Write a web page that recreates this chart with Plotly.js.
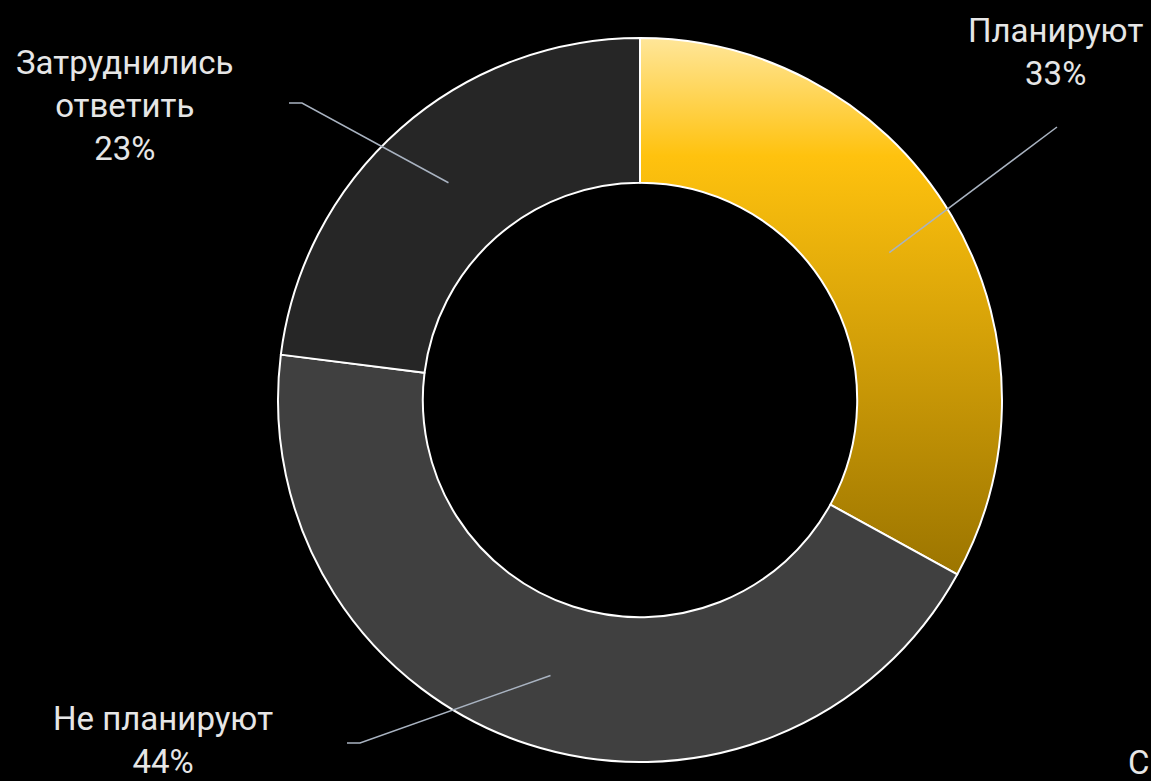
<!DOCTYPE html>
<html>
<head>
<meta charset="utf-8">
<script src="https://cdn.plot.ly/plotly-3.0.1.min.js"></script>
<style>
html,body{margin:0;padding:0;background:#000;}
#chart{width:1151px;height:781px;}
</style>
</head>
<body>
<div id="chart"></div>
<script>
// ---- data ----
const categories = ['Планируют', 'Не планируют', 'Затруднились ответить'];
const labelTexts = ['Планируют', 'Не планируют', 'Затруднились<br>ответить'];
const values = [33, 44, 23];
const sliceColors = ['#FFC000', '#404040', '#262626'];

// ---- layout constants ----
const W = 1151, H = 781;
const CX = 640, CY = 400, R = 362;     // donut centre / outer radius in px
const HOLE = 0.6;
const FONT_SIZE = 33;
// label anchor (text centre) and leader-line elbow/end per category
const labelPos = [
  {x: 1056, y: 52},
  {x: 163, y: 740},
  {x: 125, y: 105}
];
const leaderEnd = [
  [[1057, 127]],
  [[360, 743], [347, 743]],
  [[302, 103], [289, 103]]
];
const LEADER_R = 0.8; // fraction of outer radius where leader starts

const total = values.reduce((a, b) => a + b, 0);
let cum = 0;
const shapes = [];
const annotations = [];
values.forEach((v, i) => {
  const mid = (cum + v / 2) / total * 2 * Math.PI; // clockwise from 12 o'clock
  cum += v;
  const sx = CX + R * LEADER_R * Math.sin(mid);
  const sy = CY - R * LEADER_R * Math.cos(mid);
  let path = 'M ' + sx + ',' + sy;
  leaderEnd[i].forEach(p => { path += ' L ' + p[0] + ',' + p[1]; });
  shapes.push({
    type: 'path', xref: 'x', yref: 'y', path: path,
    line: {color: '#A9B3C1', width: 1.5}, layer: 'above'
  });
  const pct = Math.round(v / total * 100) + '%';
  annotations.push({
    xref: 'x', yref: 'y', x: labelPos[i].x, y: labelPos[i].y,
    text: labelTexts[i] + '<br>' + pct, showarrow: false,
    xanchor: 'center', yanchor: 'middle', align: 'center',
    font: {family: 'Roboto, sans-serif', size: FONT_SIZE, color: '#E6E6E6'}
  });
});
annotations.push({
  xref: 'x', yref: 'y', x: 1126, y: 762, text: 'С', showarrow: false,
  xanchor: 'left', yanchor: 'middle',
  font: {family: 'Roboto, sans-serif', size: FONT_SIZE, color: '#E6E6E6'}
});

const trace = {
  type: 'pie',
  labels: categories,
  values: values,
  sort: false,
  direction: 'clockwise',
  rotation: 0,
  hole: HOLE,
  textinfo: 'none',
  hoverinfo: 'label+percent',
  marker: {colors: sliceColors, line: {color: '#FFFFFF', width: 2}},
  domain: {
    x: [(CX - R) / W, (CX + R) / W],
    y: [(H - CY - R) / H, (H - CY + R) / H]
  },
  showlegend: false
};

const layout = {
  width: W, height: H,
  margin: {l: 0, r: 0, t: 0, b: 0},
  paper_bgcolor: '#000000',
  plot_bgcolor: 'rgba(0,0,0,0)',
  xaxis: {range: [0, W], visible: false, fixedrange: true},
  yaxis: {range: [H, 0], visible: false, fixedrange: true},
  shapes: shapes,
  annotations: annotations,
  showlegend: false
};

Plotly.newPlot('chart', [trace], layout, {staticPlot: true}).then(gd => {
  // gold vertical gradient for the first slice
  const svg = gd.querySelector('svg.main-svg');
  const ns = 'http://www.w3.org/2000/svg';
  let defs = svg.querySelector('defs');
  if (!defs) { defs = document.createElementNS(ns, 'defs'); svg.insertBefore(defs, svg.firstChild); }
  const g = document.createElementNS(ns, 'linearGradient');
  g.setAttribute('id', 'goldGrad');
  g.setAttribute('x1', '0'); g.setAttribute('y1', '0');
  g.setAttribute('x2', '0'); g.setAttribute('y2', '1');
  [['0', '#FFE699'], ['0.22', '#FFC20E'], ['1', '#9C7500']].forEach(s => {
    const st = document.createElementNS(ns, 'stop');
    st.setAttribute('offset', s[0]); st.setAttribute('stop-color', s[1]);
    g.appendChild(st);
  });
  defs.appendChild(g);
  const slices = gd.querySelectorAll('.slice path.surface');
  if (slices.length) slices[0].style.fill = 'url(#goldGrad)';
});
</script>
</body>
</html>
